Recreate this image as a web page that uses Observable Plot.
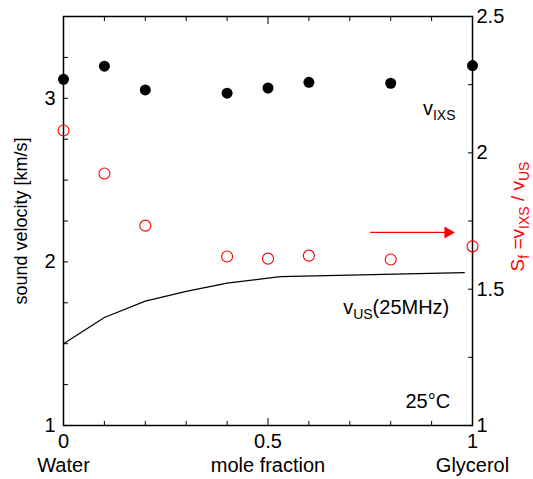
<!DOCTYPE html>
<html><head><meta charset="utf-8">
<script src="https://cdn.jsdelivr.net/npm/d3@7"></script>
<script src="https://cdn.jsdelivr.net/npm/@observablehq/plot@0.6"></script>
<style>
body{margin:0;background:#fff}
svg{font-family:"Liberation Sans",Arial,sans-serif}
</style>
</head><body><div id="chart"></div>
<script>
// IXS data points (mole fraction of glycerol)
const moleFraction = [0, 0.1, 0.2, 0.4, 0.5, 0.6, 0.8, 1];
const vIXS = [3.116, 3.196, 3.051, 3.031, 3.063, 3.098, 3.092, 3.20];
const sf = [2.082, 1.924, 1.733, 1.620, 1.612, 1.623, 1.609, 1.657];
// ultrasonic velocity curve
const usFraction = [0, 0.1, 0.2, 0.3, 0.4, 0.53, 0.98];
const vUS = [1.50, 1.66, 1.76, 1.82, 1.87, 1.91, 1.935];
// ticks
const leftTicks = [1, 2, 3];
const rightTicks = [1, 1.5, 2, 2.5];
const xTicks = [0, 0.5, 1];
const xCategoryLabels = ["Water", "mole fraction", "Glycerol"];
// annotations
const arrowFrom = 0.75, arrowTo = 0.94, arrowSf = 1.708;
const labelIXS = {x: 0.88, v: 2.896};
const labelUS = {x: 0.685, v: 1.68};
const labelTemp = {x: 0.836, v: 1.104, text: "25°C"};

const toLeft = s => 1 + (s - 1) * 2.5 / 1.5;
const fromLeft = v => 1 + (v - 1) * 1.5 / 2.5;

const ixs = moleFraction.map((x, i) => ({x, v: vIXS[i]}));
const sfData = moleFraction.map((x, i) => ({x, s: sf[i]}));
const us = usFraction.map((x, i) => ({x, v: vUS[i]}));

const minorX = d3.range(11).map(i => i / 10).filter(d => d !== 0.5);
const minorLeft = d3.range(11).map(i => 1 + i * 0.25);
const minorRight = d3.range(7).map(i => toLeft(1 + i * 0.25));
const FS = 20;

const plot = Plot.plot({
  width: 533, height: 479,
  marginLeft: 63, marginRight: 61, marginTop: 16, marginBottom: 54,
  style: {fontSize: FS + "px", fontFamily: '"Liberation Sans", Arial, sans-serif', color: "black", background: "white"},
  x: {domain: [0, 1]},
  y: {domain: [1, 3.5]},
  marks: [
    // tick marks (inward)
    Plot.axisX({anchor: "bottom", ticks: minorX, tickSize: -4, tickFormat: () => "", label: null}),
    Plot.axisX({anchor: "top", ticks: minorX, tickSize: -4, tickFormat: () => "", label: null}),
    Plot.axisX({anchor: "bottom", ticks: [0.5], tickSize: -7, tickFormat: () => "", label: null}),
    Plot.axisX({anchor: "top", ticks: [0.5], tickSize: -7, tickFormat: () => "", label: null}),
    Plot.axisY({anchor: "left", ticks: minorLeft, tickSize: -5, tickFormat: () => "", label: null}),
    Plot.axisY({anchor: "right", ticks: minorRight, tickSize: -5, tickFormat: () => "", label: null}),
    // tick labels
    Plot.axisX({anchor: "bottom", ticks: xTicks, tickSize: 0, tickPadding: 8, tickFormat: d => String(d), label: null}),
    Plot.axisX({anchor: "bottom", ticks: xTicks, tickSize: 0, tickPadding: 32,
      tickFormat: d => xCategoryLabels[xTicks.indexOf(d)], label: null}),
    Plot.axisY({anchor: "left", ticks: leftTicks, tickSize: 0, tickPadding: 8, tickFormat: d => String(d), label: null}),
    Plot.axisY({anchor: "left", ticks: [], label: "sound velocity [km/s]", labelAnchor: "center", labelArrow: "none",
      labelOffset: 49, fontSize: 18}),
    Plot.axisY({anchor: "right", ticks: rightTicks.map(toLeft), tickSize: 0, tickPadding: 4,
      tickFormat: v => String(+fromLeft(v).toFixed(1)), label: null}),
    Plot.frame({stroke: "black", strokeWidth: 1.5}),
    Plot.line(us, {x: "x", y: "v", stroke: "black", strokeWidth: 1.2}),
    Plot.dot(ixs, {x: "x", y: "v", r: 5.5, fill: "black", stroke: "none"}),
    Plot.dot(sfData, {x: "x", y: d => toLeft(d.s), r: 5.5, fill: "none", stroke: "red", strokeWidth: 1.1}),
    Plot.link([0], {x1: () => arrowFrom, x2: () => arrowTo, y1: () => toLeft(arrowSf), y2: () => toLeft(arrowSf), stroke: "red", strokeWidth: 1.2}),
    Plot.dot([0], {x: () => arrowTo, y: () => toLeft(arrowSf), symbol: "triangle", rotate: 90, r: 4.5, fill: "red", stroke: "none"}),
    Plot.text([labelTemp], {x: "x", y: "v", text: "text", textAnchor: "start", lineAnchor: "bottom", fontSize: FS})
  ]
});
document.getElementById("chart").appendChild(plot);

const sx = plot.scale("x").apply, sy = plot.scale("y").apply;
const svg = d3.select(plot);
function subLabel(x, y, main, sub, rest) {
  const t = svg.append("text").attr("x", x).attr("y", y).attr("text-anchor", "start")
    .attr("fill", "black").style("font-size", FS + "px");
  t.append("tspan").text(main);
  t.append("tspan").attr("dy", 5).style("font-size", "14px").text(sub);
  if (rest) t.append("tspan").attr("dy", -5).text(rest);
  return t;
}
subLabel(sx(labelIXS.x), sy(labelIXS.v), "v", "IXS");
subLabel(sx(labelUS.x), sy(labelUS.v), "v", "US", "(25MHz)");

// right axis title
const rt = svg.append("text").attr("transform", `translate(${533 - 9},${sy(toLeft(1.75)) - 4}) rotate(-90)`)
  .attr("text-anchor", "middle").attr("fill", "red").style("font-size", "19px");
rt.append("tspan").text("S");
rt.append("tspan").attr("dy", 5).style("font-size", "14px").text("f");
rt.append("tspan").attr("dy", -5).text(" =v");
rt.append("tspan").attr("dy", 5).style("font-size", "14px").text("IXS");
rt.append("tspan").attr("dy", -5).text(" / v");
rt.append("tspan").attr("dy", 5).style("font-size", "14px").text("US");
</script>
</body></html>
